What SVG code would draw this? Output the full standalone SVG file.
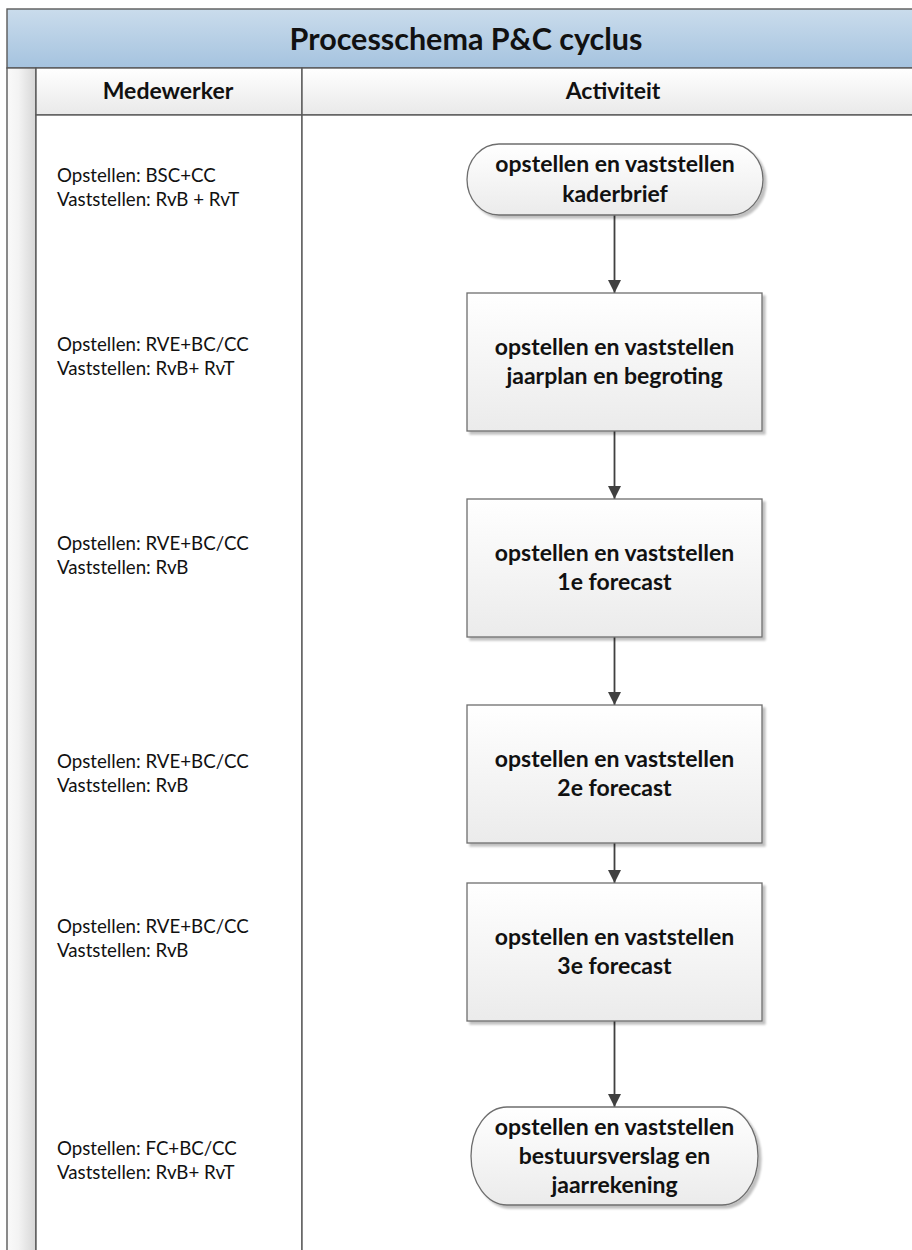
<svg xmlns="http://www.w3.org/2000/svg" width="912" height="1250" viewBox="0 0 912 1250">
<style>
  .frame { stroke: #5a5a5a; stroke-width: 1.4; }
  .tband { fill: url(#titleFill); }
  .hdr { fill: url(#headFill); }
  .strip { fill: url(#stripFill); }
  .lane { fill: #ffffff; }
  .node { stroke: #6e6e6e; stroke-width: 1.3; fill: url(#nodeFill); filter: url(#shadow); }
  .ntext { font-family: Lato, "Liberation Sans", sans-serif; font-weight: bold; font-size: 23px; fill: #111; text-anchor: middle; }
  .ltext { font-family: Lato, "Liberation Sans", sans-serif; font-size: 18.7px; fill: #111; }
  .htext { font-family: Lato, "Liberation Sans", sans-serif; font-weight: bold; font-size: 23px; fill: #111; text-anchor: middle; }
  .title { font-family: Lato, "Liberation Sans", sans-serif; font-weight: bold; font-size: 30.5px; fill: #111; text-anchor: middle; }
  .conn { stroke: #404040; stroke-width: 1.8; fill: none; marker-end: url(#arrow); }
</style>
<defs>
  <linearGradient id="titleFill" x1="0" y1="0" x2="0" y2="1">
    <stop offset="0" stop-color="#cadcec"/>
    <stop offset="1" stop-color="#a5c3df"/>
  </linearGradient>
  <linearGradient id="headFill" x1="0" y1="0" x2="0" y2="1">
    <stop offset="0" stop-color="#ffffff"/>
    <stop offset="1" stop-color="#e9e9e9"/>
  </linearGradient>
  <linearGradient id="stripFill" x1="0" y1="0" x2="1" y2="0">
    <stop offset="0" stop-color="#fafafa"/>
    <stop offset="0.4" stop-color="#f3f3f3"/>
    <stop offset="1" stop-color="#d6d6d6"/>
  </linearGradient>
  <linearGradient id="nodeFill" x1="0" y1="0" x2="0" y2="1">
    <stop offset="0" stop-color="#ffffff"/>
    <stop offset="1" stop-color="#ebebeb"/>
  </linearGradient>
  <filter id="shadow" x="-5%" y="-5%" width="115%" height="120%">
    <feGaussianBlur in="SourceAlpha" stdDeviation="1.2"/>
    <feOffset dx="2.5" dy="2.5" result="b"/>
    <feComponentTransfer><feFuncA type="linear" slope="0.25"/></feComponentTransfer>
    <feMerge><feMergeNode/><feMergeNode in="SourceGraphic"/></feMerge>
  </filter>
  <marker id="arrow" markerUnits="userSpaceOnUse" markerWidth="14" markerHeight="14" viewBox="0 0 14 14" refX="13" refY="7" orient="auto">
    <path d="M0,0.5 L13,7 L0,13.5 Z" fill="#404040"/>
  </marker>
</defs>

<rect width="912" height="1250" fill="#ffffff"/>

<g id="pool">
  <rect x="7" y="9" width="918" height="59" class="frame tband"/>
  <text class="title" x="466" y="50">Processchema P&amp;C cyclus</text>
  <rect x="7" y="68" width="29" height="1190" class="frame strip"/>
</g>

<g id="lane-medewerker">
  <rect x="36" y="68" width="266" height="47" class="frame hdr"/>
  <text class="htext" x="168" y="99">Medewerker</text>
  <rect x="36" y="115" width="266" height="1143" class="frame lane"/>
</g>

<g id="lane-activiteit">
  <rect x="302" y="68" width="622" height="47" class="frame hdr"/>
  <text class="htext" x="613" y="99">Activiteit</text>
  <rect x="302" y="115" width="622" height="1143" class="frame lane"/>
</g>

<g id="roles">
  <text class="ltext" x="57" y="182">Opstellen: BSC+CC</text>
  <text class="ltext" x="57" y="206">Vaststellen: RvB + RvT</text>
  <text class="ltext" x="57" y="351">Opstellen: RVE+BC/CC</text>
  <text class="ltext" x="57" y="375">Vaststellen: RvB+ RvT</text>
  <text class="ltext" x="57" y="550">Opstellen: RVE+BC/CC</text>
  <text class="ltext" x="57" y="574">Vaststellen: RvB</text>
  <text class="ltext" x="57" y="768">Opstellen: RVE+BC/CC</text>
  <text class="ltext" x="57" y="792">Vaststellen: RvB</text>
  <text class="ltext" x="57" y="933">Opstellen: RVE+BC/CC</text>
  <text class="ltext" x="57" y="957">Vaststellen: RvB</text>
  <text class="ltext" x="57" y="1155">Opstellen: FC+BC/CC</text>
  <text class="ltext" x="57" y="1179">Vaststellen: RvB+ RvT</text>
</g>

<g id="connectors">
  <line class="conn" x1="614.5" y1="215" x2="614.5" y2="293"/>
  <line class="conn" x1="614.5" y1="431" x2="614.5" y2="499"/>
  <line class="conn" x1="614.5" y1="637" x2="614.5" y2="705"/>
  <line class="conn" x1="614.5" y1="843" x2="614.5" y2="883"/>
  <line class="conn" x1="614.5" y1="1021" x2="614.5" y2="1107"/>
</g>

<g id="n1-kaderbrief">
  <rect class="node" x="467" y="144" width="296" height="71" rx="32" ry="35.5"/>
  <text class="ntext" x="615" y="172">opstellen en vaststellen</text>
  <text class="ntext" x="615" y="202">kaderbrief</text>
</g>

<g id="n2-jaarplan">
  <rect class="node" x="467" y="293" width="295" height="138"/>
  <text class="ntext" x="614.5" y="355">opstellen en vaststellen</text>
  <text class="ntext" x="614.5" y="384">jaarplan en begroting</text>
</g>

<g id="n3-forecast1">
  <rect class="node" x="467" y="499" width="295" height="138"/>
  <text class="ntext" x="614.5" y="561">opstellen en vaststellen</text>
  <text class="ntext" x="614.5" y="590">1e forecast</text>
</g>

<g id="n4-forecast2">
  <rect class="node" x="467" y="705" width="295" height="138"/>
  <text class="ntext" x="614.5" y="767">opstellen en vaststellen</text>
  <text class="ntext" x="614.5" y="796">2e forecast</text>
</g>

<g id="n5-forecast3">
  <rect class="node" x="467" y="883" width="295" height="138"/>
  <text class="ntext" x="614.5" y="945">opstellen en vaststellen</text>
  <text class="ntext" x="614.5" y="974">3e forecast</text>
</g>

<g id="n6-jaarrekening">
  <rect class="node" x="471" y="1107" width="287" height="98" rx="36" ry="49"/>
  <text class="ntext" x="614.5" y="1135">opstellen en vaststellen</text>
  <text class="ntext" x="614.5" y="1164">bestuursverslag en</text>
  <text class="ntext" x="614.5" y="1193">jaarrekening</text>
</g>
</svg>
